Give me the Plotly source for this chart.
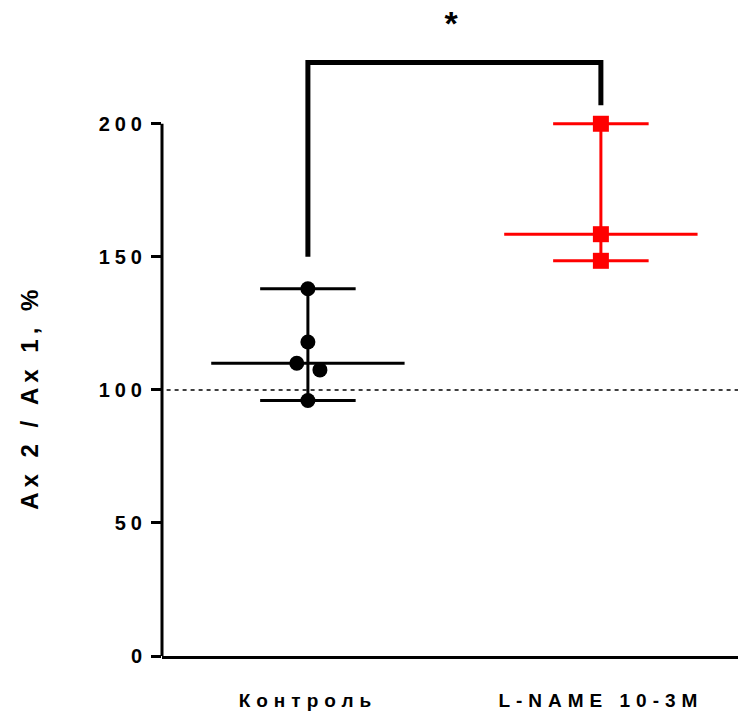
import plotly.graph_objects as go
import numpy as np

# ---- data ----
groups = ["Контроль", "L-NAME 10-3M"]
control_values = [138, 118, 110, 107.5, 96]
lname_values = [200, 158.5, 148.5]
ytick_vals = [0, 50, 100, 150, 200]
ytick_text = ["0", "50", "100", "150", "200"]
ref_level = 100
y_title = "Ax 2 / Ax 1, %"
sig_label = "*"

# ---- style / layout constants ----
control_jitter = [0, 0, -0.038, 0.041, 0]
lname_jitter = [0, 0, 0]
cap_half = 0.163
median_half = 0.330
bracket_top = 223
bracket_left_bottom = 150
bracket_right_bottom = 207
colors = ["#000000", "#ff0000"]
symbols = ["circle", "square"]
msizes = [15, 16]
FONT = "Liberation Sans, Arial, sans-serif"

fig = go.Figure()

series = [control_values, lname_values]
jitters = [control_jitter, lname_jitter]

for gi, (vals, jit) in enumerate(zip(series, jitters)):
    v = np.array(vals, dtype=float)
    lo, hi, med = v.min(), v.max(), float(np.median(v))
    xs = [gi, gi, None,
          gi - cap_half, gi + cap_half, None,
          gi - cap_half, gi + cap_half, None,
          gi - median_half, gi + median_half]
    ys = [lo, hi, None,
          lo, lo, None,
          hi, hi, None,
          med, med]
    fig.add_trace(go.Scatter(x=xs, y=ys, mode="lines",
                             line=dict(color=colors[gi], width=3),
                             hoverinfo="skip", showlegend=False))

for gi, (vals, jit) in enumerate(zip(series, jitters)):
    fig.add_trace(go.Scatter(
        x=[gi + j for j in jit], y=vals, mode="markers",
        marker=dict(color=colors[gi], symbol=symbols[gi], size=msizes[gi],
                    line=dict(width=0)),
        showlegend=False, cliponaxis=False))

# y axis line only from 0 to 200
fig.add_shape(type="line", xref="paper", yref="y", x0=0, x1=0,
              y0=0, y1=max(ytick_vals), line=dict(color="black", width=3))
# reference dotted line
fig.add_shape(type="line", xref="paper", yref="y", x0=0.008, x1=1,
              y0=ref_level, y1=ref_level,
              line=dict(color="black", width=1.5, dash="4px,4px"))
# significance bracket
fig.add_shape(type="path",
              path=f"M 0 {bracket_left_bottom} L 0 {bracket_top} L 1 {bracket_top} L 1 {bracket_right_bottom}",
              xref="x", yref="y", line=dict(color="black", width=5))

fig.add_annotation(x=0.5, y=238, xref="x", yref="y", text=sig_label,
                   showarrow=False, font=dict(family=FONT, size=34, color="black", weight="bold"))

fig.add_annotation(x=-132 / 576, y=97, xref="paper", yref="y", text=y_title,
                   textangle=-90, showarrow=False, xanchor="center", yanchor="middle",
                   font=dict(family=FONT, size=24, color="black", weight="bold"))

fig.update_layout(
    width=738, height=713,
    margin=dict(l=162, r=0, t=4, b=57),
    plot_bgcolor="white", paper_bgcolor="white",
    font=dict(family=FONT, color="black"),
    xaxis=dict(range=[-0.498, 1.468], tickvals=[0, 1], ticktext=groups,
               showline=True, linecolor="black", linewidth=3, ticks="",
               showgrid=False, zeroline=False, ticklabelstandoff=25,
               tickfont=dict(family=FONT, size=19, color="black", weight="bold")),
    yaxis=dict(range=[0, 245], tickvals=ytick_vals, ticktext=ytick_text,
               showline=False, ticks="outside", ticklen=10, tickwidth=3,
               tickcolor="black", showgrid=False, zeroline=False,
               tickfont=dict(family=FONT, size=20, color="black", weight="bold")),
)

post = """
document.body.style.margin='0';
document.querySelectorAll('.xtick text').forEach(function(t){t.style.letterSpacing='6px';});
document.querySelectorAll('.ytick text').forEach(function(t){t.style.letterSpacing='5px';});
document.querySelectorAll('.annotation-text').forEach(function(t){t.style.letterSpacing='5px';});
"""
fig.write_html("out.html", post_script=post, config={"displayModeBar": False})
